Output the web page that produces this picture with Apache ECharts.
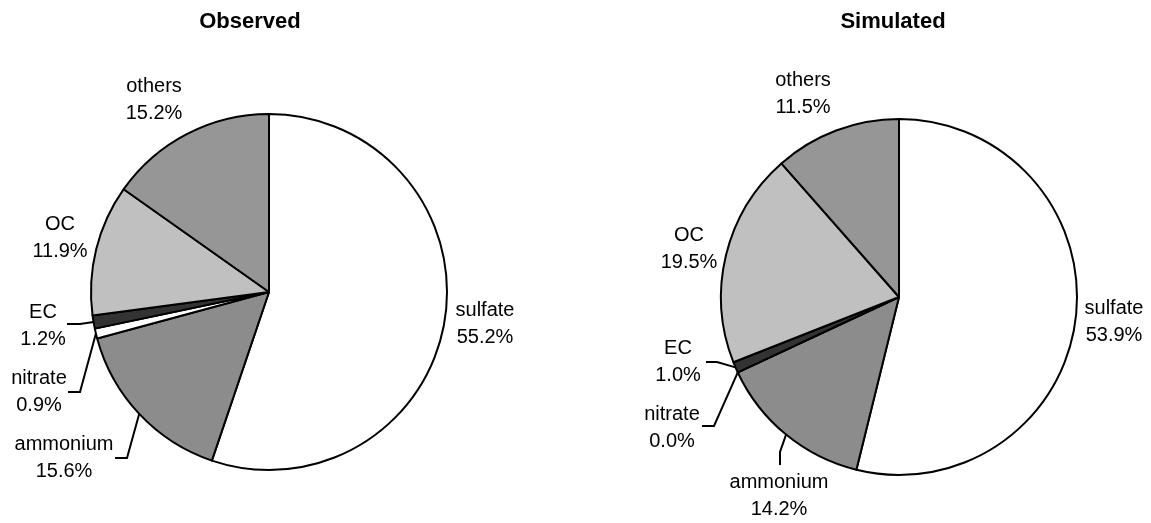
<!DOCTYPE html>
<html>
<head>
<meta charset="utf-8">
<script src="https://cdn.jsdelivr.net/npm/echarts@6/dist/echarts.min.js"></script>
<style>
  html, body { margin: 0; padding: 0; background: #fff; }
  #myChart { width: 1151px; height: 523px; }
</style>
</head>
<body>
<div id="myChart"></div>
<script>
// 数据
var categories = ["sulfate", "ammonium", "nitrate", "EC", "OC", "others"];
var observedValues = [55.2, 15.6, 0.9, 1.2, 11.9, 15.2];
var simulatedValues = [53.9, 14.2, 0.0, 1.0, 19.5, 11.5];
var sliceColors = ["#ffffff", "#8c8c8c", "#ffffff", "#333333", "#c0c0c0", "#969696"];

// 饼图位置
var pieRadius = 178;
var obsCenter = [269, 292];
var simCenter = [899, 297];

// 标签位置 (相对圆心)
var obsLabelPos = [[216, 32], [-205, 166], [-230, 100], [-226, 34], [-209, -54], [-115, -192]];
var simLabelPos = [[215, 25], [-120, 199], [-227, 131], [-221, 65], [-210, -48], [-96, -203]];
// 引线拐点 (相对圆心), null 表示没有引线
var obsLinePts = [null, [[-142, 166], [-154, 166]], [[-189, 100], [-201, 100]], [[-189, 32], [-202, 32]], null, null];
var simLinePts = [null, [[-119, 155], [-119, 168]], [[-185, 129], [-197, 129]], [[-182, 65], [-193, 65]], null, null];

var fontName = "'Liberation Sans', Arial, sans-serif";

function buildData(values, linePts) {
  return categories.map(function (name, i) {
    return {
      name: name,
      value: values[i],
      itemStyle: { color: sliceColors[i] },
      labelLine: { show: !!linePts[i] }
    };
  });
}

function makeLayout(center, labelPos, linePts) {
  return function (params) {
    var i = params.dataIndex;
    var p = labelPos[i];
    var res = {
      x: center[0] + p[0],
      y: center[1] + p[1],
      align: "center",
      verticalAlign: "middle"
    };
    if (linePts[i] && params.labelLinePoints) {
      var edge = params.labelLinePoints[0];
      res.labelLinePoints = [
        [edge[0], edge[1]],
        [center[0] + linePts[i][0][0], center[1] + linePts[i][0][1]],
        [center[0] + linePts[i][1][0], center[1] + linePts[i][1][1]]
      ];
    }
    return res;
  };
}

function makeSeries(values, center, labelPos, linePts) {
  return {
    type: "pie",
    center: center,
    radius: pieRadius,
    startAngle: 90,
    clockwise: true,
    avoidLabelOverlap: false,
    stillShowZeroSum: true,
    silent: true,
    data: buildData(values, linePts),
    itemStyle: { borderColor: "#000", borderWidth: 2 },
    label: {
      show: true,
      position: "outside",
      color: "#000",
      fontFamily: fontName,
      fontSize: 20,
      lineHeight: 27,
      formatter: function (p) {
        return p.name + "\n" + p.value.toFixed(1) + "%";
      }
    },
    labelLine: {
      length: 10,
      length2: 10,
      lineStyle: { color: "#000", width: 2 }
    },
    labelLayout: makeLayout(center, labelPos, linePts)
  };
}

var titleStyle = { fontFamily: fontName, fontSize: 22, fontWeight: "bold", color: "#000" };

var myChart = echarts.init(document.getElementById("myChart"));
myChart.setOption({
  animation: false,
  backgroundColor: "#fff",
  title: [
    { text: "Observed", left: 250, top: 11, textAlign: "center", padding: 0, textStyle: titleStyle },
    { text: "Simulated", left: 893, top: 11, textAlign: "center", padding: 0, textStyle: titleStyle }
  ],
  series: [
    makeSeries(observedValues, obsCenter, obsLabelPos, obsLinePts),
    makeSeries(simulatedValues, simCenter, simLabelPos, simLinePts)
  ]
});
</script>
</body>
</html>
